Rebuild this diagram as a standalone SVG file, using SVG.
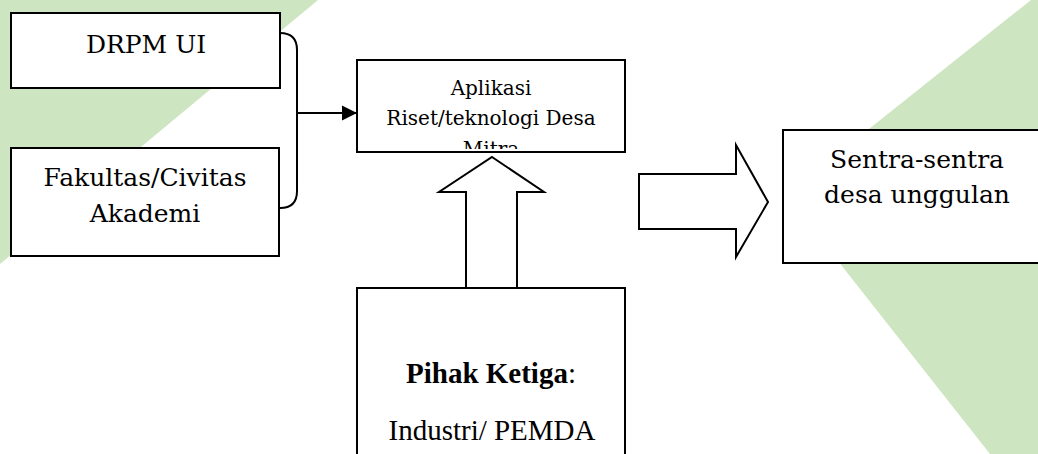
<svg xmlns="http://www.w3.org/2000/svg" width="1038" height="454" viewBox="0 0 1038 454">
  <style>
    .bg { fill: #cde6c1; }
    .box { fill: #ffffff; stroke: #000000; stroke-width: 2; }
    .line { fill: none; stroke: #000000; stroke-width: 2; }
    .blk { fill: #ffffff; stroke: #000000; stroke-width: 2; stroke-linejoin: miter; }
    .cam { font-family: "DejaVu Serif", "Liberation Serif", serif; fill: #000000; text-anchor: middle; }
    .tnr { font-family: "Liberation Serif", "Times New Roman", serif; fill: #000000; text-anchor: middle; font-size: 29px; }
  </style>
  <defs>
    <marker id="tri" markerWidth="16" markerHeight="16" refX="15" refY="8" orient="auto" markerUnits="userSpaceOnUse">
      <path d="M0,0.5 L15,8 L0,15.5 Z" fill="#000000"/>
    </marker>
    <clipPath id="apClip">
      <rect x="358" y="61" width="266" height="88"/>
    </clipPath>
  </defs>

  <rect width="1038" height="454" fill="#ffffff"/>

  <!-- background decoration -->
  <polygon class="bg" points="0,0 318,0 0,264"/>
  <polygon class="bg" points="1031,0 1038,0 1038,454 990,454 786,195"/>

  <!-- connectors -->
  <g id="connectors">
    <path class="line" d="M280,33 Q297,33 297,50 L297,191 Q297,208 280,208"/>
    <line class="line" x1="297" y1="113" x2="357" y2="113" marker-end="url(#tri)"/>
    <polygon class="blk" points="492,157 544,192 517,192 517,288 466,288 466,192 439,192"/>
    <polygon class="blk" points="639,174 736,174 736,145 768,202 736,257 736,229 639,229"/>
  </g>

  <g id="drpm">
    <rect class="box" x="11" y="13" width="269" height="75"/>
    <text class="cam" x="146" y="53" font-size="25">DRPM UI</text>
  </g>

  <g id="fakultas">
    <rect class="box" x="11" y="148" width="268" height="108"/>
    <text class="cam" x="145" y="186" font-size="25">Fakultas/Civitas</text>
    <text class="cam" x="145" y="222" font-size="25">Akademi</text>
  </g>

  <g id="aplikasi">
    <rect class="box" x="357" y="60" width="268" height="92"/>
    <g clip-path="url(#apClip)">
      <text class="cam" x="491" y="95" font-size="20">Aplikasi</text>
      <text class="cam" x="491" y="125" font-size="20">Riset/teknologi Desa</text>
      <text class="cam" x="491" y="156" font-size="20">Mitra</text>
    </g>
  </g>

  <g id="sentra">
    <rect class="box" x="783" y="130" width="270" height="133"/>
    <text class="cam" x="917" y="168" font-size="25">Sentra-sentra</text>
    <text class="cam" x="917" y="203" font-size="25">desa unggulan</text>
  </g>

  <g id="pihak">
    <rect class="box" x="357" y="288" width="268" height="180"/>
    <text class="tnr" x="491" y="383"><tspan font-weight="bold">Pihak Ketiga</tspan>:</text>
    <text class="tnr" x="492" y="440">Industri/ PEMDA</text>
  </g>
</svg>
